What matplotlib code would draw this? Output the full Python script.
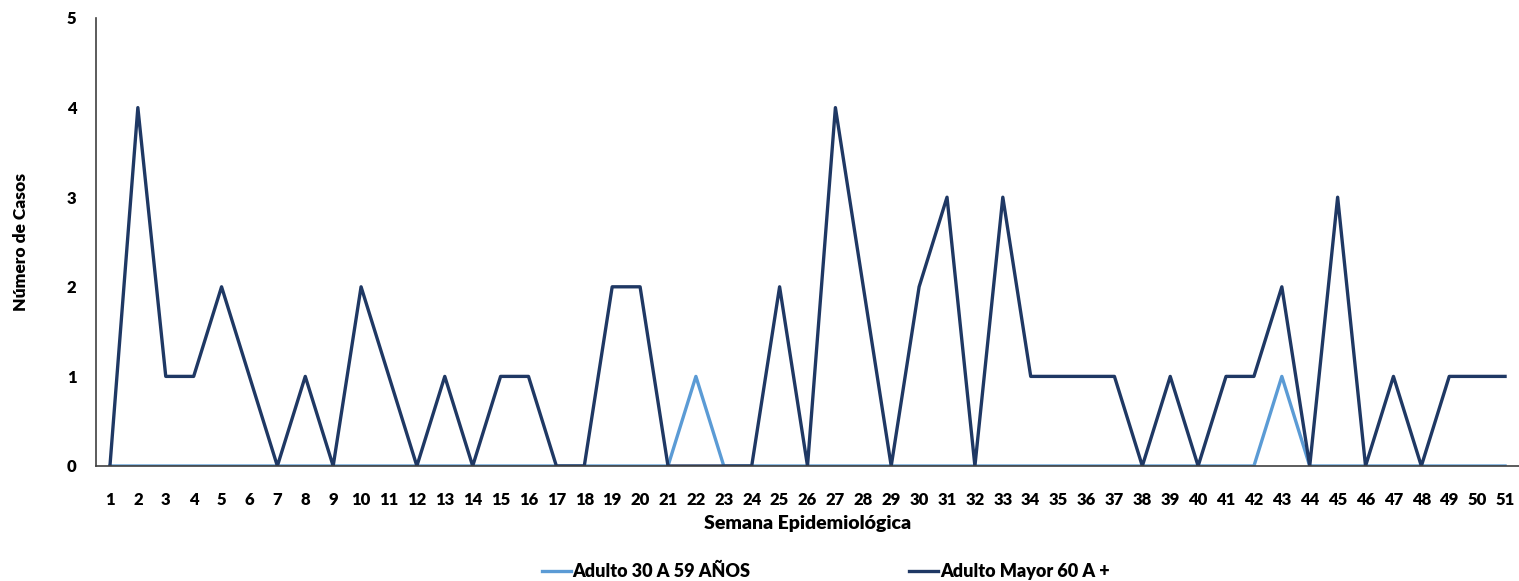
import matplotlib.pyplot as plt
import numpy as np

# Semanas epidemiologicas y casos por grupo de edad
semanas = list(range(1, 52))
adulto_30_59 = [0, 0, 0, 0, 0, 0, 0, 0, 0, 0,
                0, 0, 0, 0, 0, 0, 0, 0, 0, 0,
                0, 1, 0, 0, 0, 0, 0, 0, 0, 0,
                0, 0, 0, 0, 0, 0, 0, 0, 0, 0,
                0, 0, 1, 0, 0, 0, 0, 0, 0, 0,
                0]
adulto_mayor_60 = [0, 4, 1, 1, 2, 1, 0, 1, 0, 2,
                   1, 0, 1, 0, 1, 1, 0, 0, 2, 2,
                   0, 0, 0, 0, 2, 0, 4, 2, 0, 2,
                   3, 0, 3, 1, 1, 1, 1, 0, 1, 0,
                   1, 1, 2, 0, 3, 0, 1, 0, 1, 1,
                   1]

plt.rcParams['font.family'] = ['Lato', 'DejaVu Sans']
plt.rcParams['font.weight'] = 'bold'

fig = plt.figure(figsize=(15.19, 5.81), dpi=100)
ax = fig.add_axes([96 / 1519, 1 - 466 / 581, 1 - 96 / 1519, (466 - 18) / 581])

ax.plot(semanas, adulto_30_59, color='#5B9BD5', lw=2.4, label='Adulto 30 A 59 AÑOS')
ax.plot(semanas, adulto_mayor_60, color='#1F3864', lw=2.4, label='Adulto Mayor 60 A +')

ax.set_xlim(0.5, 51.5)
ax.set_ylim(0, 5)
ax.set_xticks(semanas)
ax.set_yticks(range(0, 6))
ax.tick_params(axis='both', length=0, labelsize=12)
ax.tick_params(axis='x', pad=19)
ax.tick_params(axis='y', pad=14)
for lab in ax.get_xticklabels() + ax.get_yticklabels():
    lab.set_fontweight('heavy')

for s in ['top', 'right']:
    ax.spines[s].set_visible(False)
for s in ['left', 'bottom']:
    ax.spines[s].set_color('#404040')
    ax.spines[s].set_linewidth(1.2)

ax.set_xlabel('Semana Epidemiológica', fontsize=14, fontweight='heavy', labelpad=5)
ax.set_ylabel('Número de Casos', fontsize=12.5, fontweight='heavy', labelpad=27)

fig.legend(loc='lower center', bbox_to_anchor=(0.5435, -0.026), ncol=2, frameon=False,
           handlelength=1.6, handletextpad=0.1, columnspacing=8.8,
           prop={'weight': 'heavy', 'size': 13})

fig.savefig('out.png', dpi=100)
